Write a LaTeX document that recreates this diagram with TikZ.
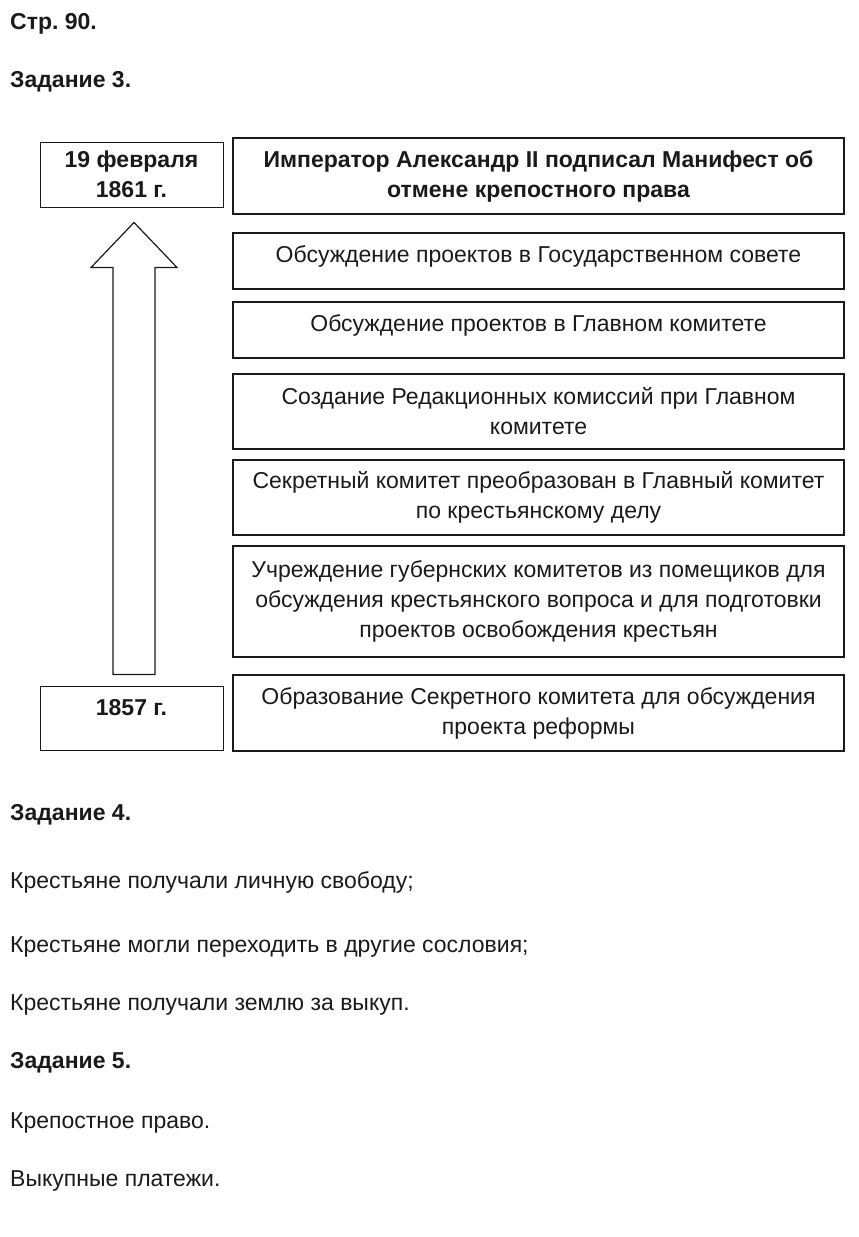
\documentclass[tikz,border=0pt]{standalone}
\usepackage{fontspec}
\setmainfont{Liberation Sans}
\usetikzlibrary{positioning, calc}
\definecolor{ink}{HTML}{1A1A1A}
\newcommand{\txt}{\fontsize{23}{30}\selectfont\frenchspacing}
\tikzset{
  font=\txt,
  %
  event/.style={draw=ink, line width=1.5pt, align=center, text=ink,
                minimum width=611pt, inner sep=0pt},
  eventb/.style={event, font=\txt\bfseries},
  datebox/.style={draw=ink, line width=1pt, align=center, text=ink,
                  minimum width=183pt, inner sep=0pt, font=\txt\bfseries},
  %
  head/.style={anchor=base west, inner sep=0pt, text=ink, font=\txt\bfseries},
  answer/.style={anchor=base west, inner sep=0pt, text=ink},
  bigarrow/.style={draw=ink, line width=1.2pt, fill=white, line join=miter},
}

\begin{document}
\begin{tikzpicture}[x=1pt, y=-1pt]
  \useasboundingbox (0,0) rectangle (859,1237);

  % --- headings ----------------------------------------------------------
  \node[head] (page) at (10,29) {Стр. 90.};
  \node[head] (task3) at (10,87) {Задание 3.};

  % --- dates -------------------------------------------------------------
  \node[datebox, minimum height=65pt] (d1861) at (131.5,174.5)
    {19 февраля\\1861 г.};
  \node[datebox, minimum height=64pt, text depth=22pt] (d1857) at (131.5,718)
    {1857 г.};

  \coordinate (tail) at ($(d1857.north)+(2.5,-11)$);
  \coordinate (tip)  at ($(d1861.south)+(2.5,15)$);
  \draw[bigarrow] ($(tail)+(-21,0)$) -- ($(tip)+(-21,45)$) -- ($(tip)+(-43,45)$)
    -- (tip) -- ($(tip)+(43,45)$) -- ($(tip)+(21,45)$) -- ($(tail)+(21,0)$) -- cycle;

  % --- events, latest on top ---------------------------------------------
  \node[eventb, minimum height=76pt] (e1) at (538.5,176)
    {Император Александр II подписал Манифест об\\отмене крепостного права};
  \node[event, minimum height=56pt, text depth=14pt] (e2) at (538.5,261)
    {Обсуждение проектов в Государственном совете};
  \node[event, minimum height=56pt, text depth=14pt] (e3) at (538.5,330)
    {Обсуждение проектов в Главном комитете};
  \node[event, minimum height=75pt] (e4) at (538.5,411.5)
    {Создание Редакционных комиссий при Главном\\комитете};
  \node[event, minimum height=75pt] (e5) at (538.5,497.5)
    {Секретный комитет преобразован в Главный комитет\\по крестьянскому делу};
  \node[event, minimum height=111pt] (e6) at (538.5,601.5)
    {Учреждение губернских комитетов из помещиков для\\обсуждения крестьянского вопроса и для подготовки\\проектов освобождения крестьян};
  \node[event, minimum height=76pt] (e7) at (538.5,713)
    {Образование Секретного комитета для обсуждения\\проекта реформы};

  % --- task 4 ------------------------------------------------------------
  \node[head] (task4) at (10,820) {Задание 4.};
  \node[answer] (a41) at (10,888) {Крестьяне получали личную свободу;};
  \node[answer] (a42) at (10,952) {Крестьяне могли переходить в другие сословия;};
  \node[answer] (a43) at (10,1010) {Крестьяне получали землю за выкуп.};

  % --- task 5 ------------------------------------------------------------
  \node[head] (task5) at (10,1068) {Задание 5.};
  \node[answer] (a51) at (10,1128) {Крепостное право.};
  \node[answer] (a52) at (10,1186) {Выкупные платежи.};

\end{tikzpicture}
\end{document}
